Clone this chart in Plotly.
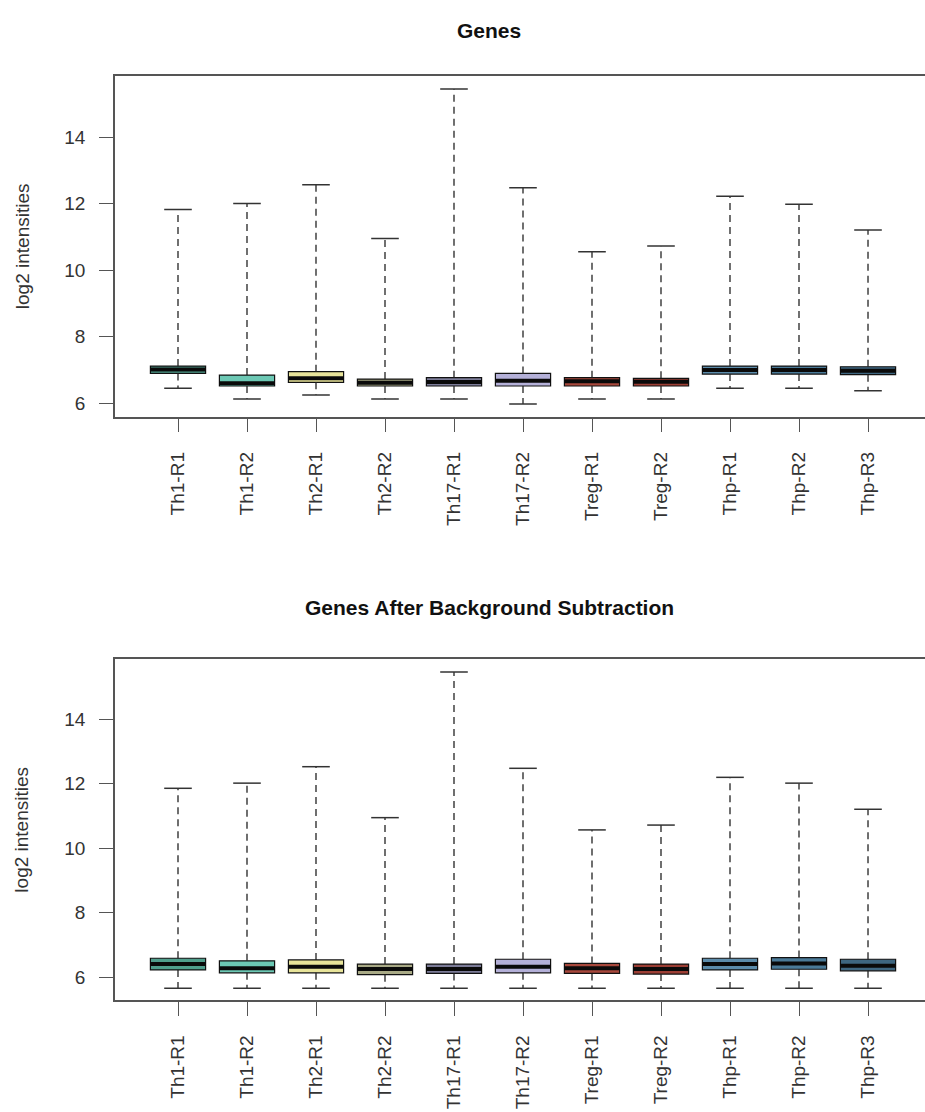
import plotly.graph_objects as go

samples = ["Th1-R1", "Th1-R2", "Th2-R1", "Th2-R2", "Th17-R1", "Th17-R2",
           "Treg-R1", "Treg-R2", "Thp-R1", "Thp-R2", "Thp-R3"]
box_colors = ["#4f9e8c", "#6cc8b4", "#e8e49a", "#a9aa86", "#7c7c98", "#b4b0d8",
              "#a8483c", "#9c3e34", "#5c8cab", "#4a7a98", "#3e6680"]

# Panel 1: Genes
g_min = [6.45, 6.13, 6.25, 6.13, 6.13, 5.98, 6.13, 6.13, 6.45, 6.45, 6.38]
g_q1 = [6.90, 6.52, 6.63, 6.52, 6.52, 6.52, 6.52, 6.52, 6.88, 6.88, 6.86]
g_med = [7.02, 6.60, 6.75, 6.62, 6.64, 6.68, 6.66, 6.65, 7.00, 7.00, 6.98]
g_q3 = [7.12, 6.85, 6.95, 6.73, 6.77, 6.90, 6.77, 6.75, 7.12, 7.12, 7.10]
g_max = [11.83, 12.01, 12.57, 10.96, 15.45, 12.48, 10.56, 10.73, 12.23, 11.99, 11.21]

# Panel 2: Genes After Background Subtraction
b_min = [5.66, 5.66, 5.66, 5.66, 5.66, 5.66, 5.66, 5.66, 5.66, 5.66, 5.66]
b_q1 = [6.23, 6.14, 6.14, 6.08, 6.12, 6.14, 6.12, 6.10, 6.23, 6.25, 6.20]
b_med = [6.41, 6.28, 6.33, 6.26, 6.26, 6.33, 6.28, 6.26, 6.41, 6.43, 6.36]
b_q3 = [6.59, 6.51, 6.54, 6.41, 6.41, 6.56, 6.43, 6.41, 6.59, 6.61, 6.56]
b_max = [11.86, 12.02, 12.53, 10.95, 15.47, 12.48, 10.57, 10.72, 12.20, 12.02, 11.21]

titles = ["Genes", "Genes After Background Subtraction"]
y_title = "log2 intensities"
y_ticks = [6, 8, 10, 12, 14]

W, H = 925, 1112
FONT = "Liberation Sans, Arial, Helvetica, sans-serif"
AX = "#555555"
BOX_W = 0.8
CAP_W = 0.4

fig = go.Figure()

panels = [
    dict(mn=g_min, q1=g_q1, med=g_med, q3=g_q3, mx=g_max, xa="x", ya="y",
         top=75.7, bot=416.7, yr=[5.597, 15.853], title_y=30),
    dict(mn=b_min, q1=b_q1, med=b_med, q3=b_q3, mx=b_max, xa="x2", ya="y2",
         top=659.3, bot=1000.0, yr=[5.296, 15.86], title_y=607),
]

pos = list(range(1, len(samples) + 1))

for p in panels:
    # whiskers (dashed)
    wx, wy = [], []
    for i, x in enumerate(pos):
        wx += [x, x, None, x, x, None]
        wy += [p["q3"][i], p["mx"][i], None, p["q1"][i], p["mn"][i], None]
    fig.add_trace(go.Scatter(x=wx, y=wy, mode="lines", xaxis=p["xa"], yaxis=p["ya"],
                             line=dict(color="#222222", width=1.3, dash="7px,5px"),
                             hoverinfo="skip", showlegend=False))
    # staples
    cx, cy = [], []
    for i, x in enumerate(pos):
        cx += [x - CAP_W / 2, x + CAP_W / 2, None, x - CAP_W / 2, x + CAP_W / 2, None]
        cy += [p["mx"][i], p["mx"][i], None, p["mn"][i], p["mn"][i], None]
    fig.add_trace(go.Scatter(x=cx, y=cy, mode="lines", xaxis=p["xa"], yaxis=p["ya"],
                             line=dict(color="#333333", width=1.5),
                             hoverinfo="skip", showlegend=False))
    # boxes
    for i, x in enumerate(pos):
        fig.add_trace(go.Box(x=[x], q1=[p["q1"][i]], median=[p["med"][i]], q3=[p["q3"][i]],
                             lowerfence=[p["q1"][i]], upperfence=[p["q3"][i]],
                             width=BOX_W, fillcolor=box_colors[i],
                             line=dict(color="#111111", width=1.2),
                             boxpoints=False, name=samples[i],
                             xaxis=p["xa"], yaxis=p["ya"], showlegend=False))
    # thick medians
    mx_, my_ = [], []
    for i, x in enumerate(pos):
        mx_ += [x - BOX_W / 2, x + BOX_W / 2, None]
        my_ += [p["med"][i], p["med"][i], None]
    fig.add_trace(go.Scatter(x=mx_, y=my_, mode="lines", xaxis=p["xa"], yaxis=p["ya"],
                             line=dict(color="#0a0a0a", width=4),
                             hoverinfo="skip", showlegend=False))

xdom = [115 / W, 1.0]
xr = [0.087, 11.826]

def xaxis_cfg():
    return dict(domain=xdom, range=xr, tickmode="array", tickvals=pos, ticktext=samples,
                tickangle=-90, ticks="outside", ticklen=14, tickwidth=1.3, tickcolor=AX,
                showline=True, linecolor=AX, linewidth=1.5, mirror=True,
                showgrid=False, zeroline=False, ticklabelstandoff=12,
                tickfont=dict(family=FONT, size=19, color="#333333"))

def yaxis_cfg(p):
    return dict(domain=[1 - p["bot"] / H, 1 - p["top"] / H], range=p["yr"],
                tickmode="array", tickvals=y_ticks, ticks="outside", ticklen=14,
                tickwidth=1.3, tickcolor=AX, showline=True, linecolor=AX, linewidth=1.5,
                showgrid=False, zeroline=False, ticklabelstandoff=10,
                tickfont=dict(family=FONT, size=19, color="#333333"))

annotations = []
for k, p in enumerate(panels):
    annotations.append(dict(text="<b>" + titles[k] + "</b>", x=489 / W, y=1 - p["title_y"] / H,
                            xref="paper", yref="paper", xanchor="center", yanchor="middle",
                            showarrow=False, font=dict(family=FONT, size=21, color="#111111")))
    annotations.append(dict(text=y_title, x=22 / W, y=1 - (p["top"] + p["bot"]) / 2 / H,
                            xref="paper", yref="paper", xanchor="center", yanchor="middle",
                            textangle=-90, showarrow=False,
                            font=dict(family=FONT, size=19, color="#333333")))

fig.update_layout(
    width=W, height=H,
    margin=dict(l=0, r=0, t=0, b=0),
    paper_bgcolor="white", plot_bgcolor="white",
    showlegend=False, boxmode="overlay",
    xaxis=dict(anchor="y", **xaxis_cfg()),
    yaxis=dict(anchor="x", **yaxis_cfg(panels[0])),
    xaxis2=dict(anchor="y2", **xaxis_cfg()),
    yaxis2=dict(anchor="x2", **yaxis_cfg(panels[1])),
    annotations=annotations,
)

fig.write_html("out.html")
